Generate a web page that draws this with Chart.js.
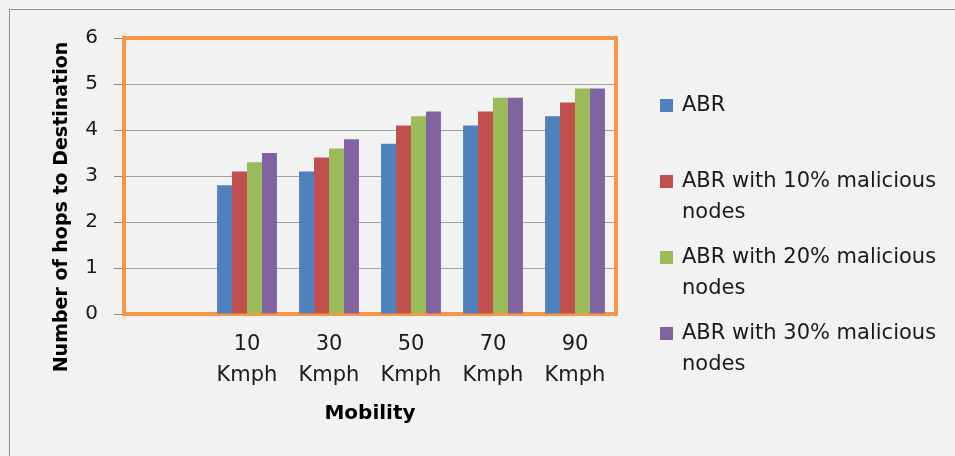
<!DOCTYPE html>
<html>
<head>
<meta charset="utf-8">
<script src="https://cdn.jsdelivr.net/npm/chart.js@4"></script>
<style>
  html, body { margin: 0; padding: 0; background: #f2f2f2; }
  #wrap { position: relative; width: 955px; height: 456px; overflow: hidden; }
  #frame { position: absolute; left: 9px; top: 9px; width: 1000px; height: 500px; border: 1px solid #8e8e8e; box-sizing: border-box; }
  #c { position: absolute; left: 0; top: 0; }
</style>
</head>
<body>
<div id="wrap">
  <div id="frame"></div>
  <canvas id="c" width="955" height="456"></canvas>
</div>
<script>
// Mobility categories (first slot is left empty on the axis)
const categories = [['', ''], ['10', 'Kmph'], ['30', 'Kmph'], ['50', 'Kmph'], ['70', 'Kmph'], ['90', 'Kmph']];

// Series names
const seriesNames = [
  'ABR',
  'ABR with 10% malicious nodes',
  'ABR with 20% malicious nodes',
  'ABR with 30% malicious nodes'
];

// Number of hops to destination per series
const abr      = [null, 2.8, 3.1, 3.7, 4.1, 4.3];
const abr10    = [null, 3.1, 3.4, 4.1, 4.4, 4.6];
const abr20    = [null, 3.3, 3.6, 4.3, 4.7, 4.9];
const abr30    = [null, 3.5, 3.8, 4.4, 4.7, 4.9];

// Value axis ticks
const yTicks = [0, 1, 2, 3, 4, 5, 6];

const colors = ['#4f81bd', '#c0504d', '#9bbb59', '#8064a2'];
const FONT = '"DejaVu Sans", "Open Sans", sans-serif';
const TEXT = '#1a1a1a';

// Orange frame around the plot area, drawn under the bars
const plotFrame = {
  id: 'plotFrame',
  beforeDatasetsDraw(chart) {
    const { ctx, chartArea: a } = chart;
    ctx.save();
    ctx.strokeStyle = '#f79646';
    ctx.lineWidth = 4;
    ctx.strokeRect(a.left, a.top, a.right - a.left, a.bottom - a.top);
    ctx.restore();
  }
};

// Rotated value-axis title
const yTitle = {
  id: 'yTitle',
  afterDraw(chart) {
    const { ctx } = chart;
    ctx.save();
    ctx.translate(62, 207);
    ctx.rotate(-Math.PI / 2);
    ctx.font = 'bold 19px ' + FONT;
    ctx.fillStyle = '#000';
    ctx.textAlign = 'center';
    ctx.textBaseline = 'middle';
    ctx.fillText('Number of hops to Destination', 0, 0);
    ctx.restore();
  }
};

// Legend on the right with wrapped labels
const sideLegend = {
  id: 'sideLegend',
  afterDraw(chart) {
    const { ctx } = chart;
    const x0 = 660, tx = 682, maxW = 268, lineH = 30.5, y0 = 105, step = 76;
    ctx.save();
    ctx.font = '21px ' + FONT;
    ctx.textBaseline = 'middle';
    chart.data.datasets.forEach((ds, i) => {
      const words = ds.label.split(' ');
      const lines = [];
      let cur = '';
      words.forEach(w => {
        const t = cur ? cur + ' ' + w : w;
        if (ctx.measureText(t).width > maxW && cur) { lines.push(cur); cur = w; } else { cur = t; }
      });
      lines.push(cur);
      const y = y0 + i * step;
      ctx.fillStyle = ds.backgroundColor;
      ctx.fillRect(x0, y - 6, 13, 13);
      ctx.fillStyle = TEXT;
      lines.forEach((ln, k) => ctx.fillText(ln, tx, y + 1 + k * lineH));
    });
    ctx.restore();
  }
};

const datasets = [abr, abr10, abr20, abr30].map((d, i) => ({
  label: seriesNames[i],
  data: d,
  backgroundColor: colors[i],
  borderWidth: 0,
  categoryPercentage: 0.73,
  barPercentage: 1.0
}));

new Chart(document.getElementById('c'), {
  type: 'bar',
  data: { labels: categories, datasets },
  options: {
    responsive: false,
    animation: false,
    layout: { padding: { left: 0, right: 339, top: 38, bottom: 30 } },
    plugins: {
      legend: { display: false },
      tooltip: { enabled: false }
    },
    scales: {
      x: {
        grid: { display: false, drawTicks: false },
        border: { display: false },
        ticks: {
          color: TEXT,
          font: { family: FONT, size: 21, lineHeight: 1.476 },
          padding: 15.5,
          maxRotation: 0,
          autoSkip: false
        },
        title: {
          display: true,
          text: 'Mobility',
          color: '#000',
          font: { family: FONT, size: 20, weight: 'bold' },
          padding: { top: -5, bottom: 0 }
        }
      },
      y: {
        min: 0,
        max: 6,
        afterFit(scale) { scale.width = 124; },
        afterBuildTicks(scale) { scale.ticks = yTicks.map(v => ({ value: v })); },
        grid: { color: '#a0a0a0', lineWidth: 1, tickLength: 10, tickColor: '#8a8a8a' },
        border: { display: true, color: '#8a8a8a' },
        ticks: {
          color: TEXT,
          font: { family: FONT, size: 20 },
          padding: 16
        }
      }
    }
  },
  plugins: [plotFrame, yTitle, sideLegend]
});
</script>
</body>
</html>
